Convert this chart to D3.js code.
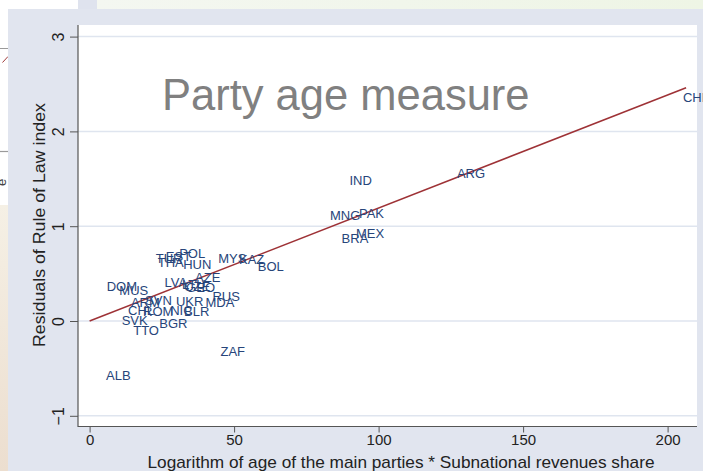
<!DOCTYPE html>
<html>
<head>
<meta charset="utf-8">
<script src="https://cdn.jsdelivr.net/npm/d3@7"></script>
<style>
  html, body { margin: 0; padding: 0; background: #ffffff; }
  svg { display: block; font-family: "Liberation Sans", Arial, sans-serif; }
</style>
</head>
<body>
<div id="chart"></div>
<script>
// ---- data ----
const countries = ["CHN","ARG","IND","MNG","PAK","BRA","MEX","MYS","KAZ","BOL","ZAF",
  "RUS","MDA","UKR","BLR","NIC","ROM","CHL","ARM","SVN","DOM","MUS","SVK","TTO","BGR","ALB",
  "LVA","LTU","CZE","GEO","AZE","EST","POL","TUR","THA","HUN"];
const xValues = [204.6,126.4,89.2,82.5,92.5,86.5,91.5,43.8,51.0,57.5,44.6,
  41.8,39.4,29.2,32.0,27.2,17.8,12.6,13.6,18.5,5.2,9.6,10.4,14.4,23.4,5.0,
  25.2,31.3,32.0,32.7,35.8,25.7,30.3,22.2,22.9,31.7];
const yValues = [2.356,1.558,1.487,1.111,1.139,0.872,0.925,0.661,0.654,0.573,-0.320,
  0.256,0.195,0.204,0.105,0.111,0.100,0.116,0.200,0.216,0.362,0.327,0.011,-0.095,-0.024,-0.577,
  0.404,0.390,0.364,0.359,0.459,0.680,0.714,0.658,0.618,0.598];
const fitX = [0, 206.4];
const fitY = [0, 2.46];
const xTicks = [0, 50, 100, 150, 200];
const yTicks = [-1, 0, 1, 2, 3];
const titleText = "Party age measure";
const xTitle = "Logarithm of age of the main parties * Subnational revenues share";
const yTitle = "Residuals of Rule of Law index";

// ---- drawing ----
const W = 703, H = 471;
const svg = d3.select("#chart").append("svg").attr("width", W).attr("height", H);
const defs = svg.append("defs");
const g1 = defs.append("linearGradient").attr("id","beige").attr("x1",0).attr("y1",0).attr("x2",0).attr("y2",1);
g1.append("stop").attr("offset","0%").attr("stop-color","#f5f0e5");
g1.append("stop").attr("offset","100%").attr("stop-color","#ecdecf");
const g2 = defs.append("linearGradient").attr("id","green").attr("x1",0).attr("y1",0).attr("x2",1).attr("y2",0);
g2.append("stop").attr("offset","0%").attr("stop-color","#f4f7f1");
g2.append("stop").attr("offset","100%").attr("stop-color","#eef5e5");

// slide background pieces
svg.append("rect").attr("x",0).attr("y",0).attr("width",W).attr("height",H).attr("fill","#ffffff");
svg.append("rect").attr("x",97).attr("y",0).attr("width",W-97).attr("height",9).attr("fill","url(#green)");
svg.append("rect").attr("x",0).attr("y",205).attr("width",8).attr("height",H-205).attr("fill","url(#beige)");
svg.append("line").attr("x1",0).attr("x2",8).attr("y1",48.5).attr("y2",48.5).attr("stroke","#9a9a9a").attr("stroke-width",1);
svg.append("line").attr("x1",0).attr("x2",8).attr("y1",151.5).attr("y2",151.5).attr("stroke","#9a9a9a").attr("stroke-width",1.2);
svg.append("line").attr("x1",2.5).attr("y1",62.5).attr("x2",8).attr("y2",56.5).attr("stroke","#a03a3a").attr("stroke-width",1);
svg.append("text").attr("transform","translate(6,186) rotate(-90)").attr("font-size",13).attr("fill","#444").text("e");

// graph region
svg.append("rect").attr("x",78).attr("y",0).attr("width",19).attr("height",9).attr("fill","#dfe3ee");
svg.append("rect").attr("x",8).attr("y",9).attr("width",W-8).attr("height",H-9).attr("fill","#e1e5ef");

const plotL = 78, plotR = 697, plotT = 25, plotB = 426.5;
svg.append("rect").attr("x",plotL).attr("y",plotT).attr("width",plotR-plotL).attr("height",plotB-plotT).attr("fill","#ffffff");

const x = d3.scaleLinear().domain([0, 200]).range([89.6, 667.6]);
const y = d3.scaleLinear().domain([-1, 3]).range([415.8, 36.6]);

// gridlines
svg.append("g").selectAll("line").data(yTicks).join("line")
  .attr("x1", plotL).attr("x2", plotR)
  .attr("y1", d => y(d)).attr("y2", d => y(d))
  .attr("stroke", "#dfe5ef").attr("stroke-width", 1.5);

// axes
const yAxis = d3.axisLeft(y).tickValues(yTicks).tickSize(8).tickFormat(d3.format("d"));
const gy = svg.append("g").attr("transform", `translate(${plotL},0)`).call(yAxis);
gy.select(".domain").remove();
gy.selectAll(".tick line").attr("stroke", "#555").attr("stroke-width", 1);
gy.selectAll(".tick text").remove();
gy.selectAll(".tick").append("text")
  .attr("transform", "translate(-14,0) rotate(-90)")
  .attr("text-anchor", "middle").attr("fill", "#222").attr("font-size", 16)
  .text(d => d3.format("d")(d));

const xAxis = d3.axisBottom(x).tickValues(xTicks).tickSize(6).tickFormat(d3.format("d"));
const gx = svg.append("g").attr("transform", `translate(0,${plotB})`).call(xAxis);
gx.select(".domain").remove();
gx.selectAll(".tick line").attr("stroke", "#555").attr("stroke-width", 1);
gx.selectAll(".tick text").attr("fill", "#222").attr("font-size", 15).attr("y", 8).attr("dy", "0.71em")
  .attr("font-family", "\"Liberation Sans\", Arial, sans-serif");

svg.append("line").attr("x1", plotL).attr("x2", plotL).attr("y1", plotT).attr("y2", plotB + 0.5).attr("stroke", "#555").attr("stroke-width", 1.2);
svg.append("line").attr("x1", plotL).attr("x2", plotR).attr("y1", plotB).attr("y2", plotB).attr("stroke", "#555").attr("stroke-width", 1.2);

// axis titles
svg.append("text").attr("x", 401).attr("y", 468).attr("text-anchor", "middle")
  .attr("font-size", 17).attr("fill", "#222").attr("textLength", 507).attr("lengthAdjust", "spacingAndGlyphs")
  .text(xTitle);
svg.append("text").attr("transform", "translate(45,225) rotate(-90)").attr("text-anchor", "middle")
  .attr("font-size", 16).attr("fill", "#222").attr("textLength", 244).attr("lengthAdjust", "spacingAndGlyphs")
  .text(yTitle);

// title inside plot
svg.append("text").attr("x", 162).attr("y", 110).attr("font-size", 43.5).attr("fill", "#808080").text(titleText);

// fitted line
const fit = fitX.map((v, i) => [v, fitY[i]]);
svg.append("path").datum(fit)
  .attr("d", d3.line().x(d => x(d[0])).y(d => y(d[1])))
  .attr("fill", "none").attr("stroke", "#9e3236").attr("stroke-width", 1.5);

// marker labels
const pts = countries.map((c, i) => ({ c, xv: xValues[i], yv: yValues[i] }));
svg.append("g").selectAll("text").data(pts).join("text")
  .attr("x", d => x(d.xv) + 2).attr("y", d => y(d.yv)).attr("dy", "0.36em")
  .attr("font-size", 13).attr("fill", "#27457a").text(d => d.c);
</script>
</body>
</html>
